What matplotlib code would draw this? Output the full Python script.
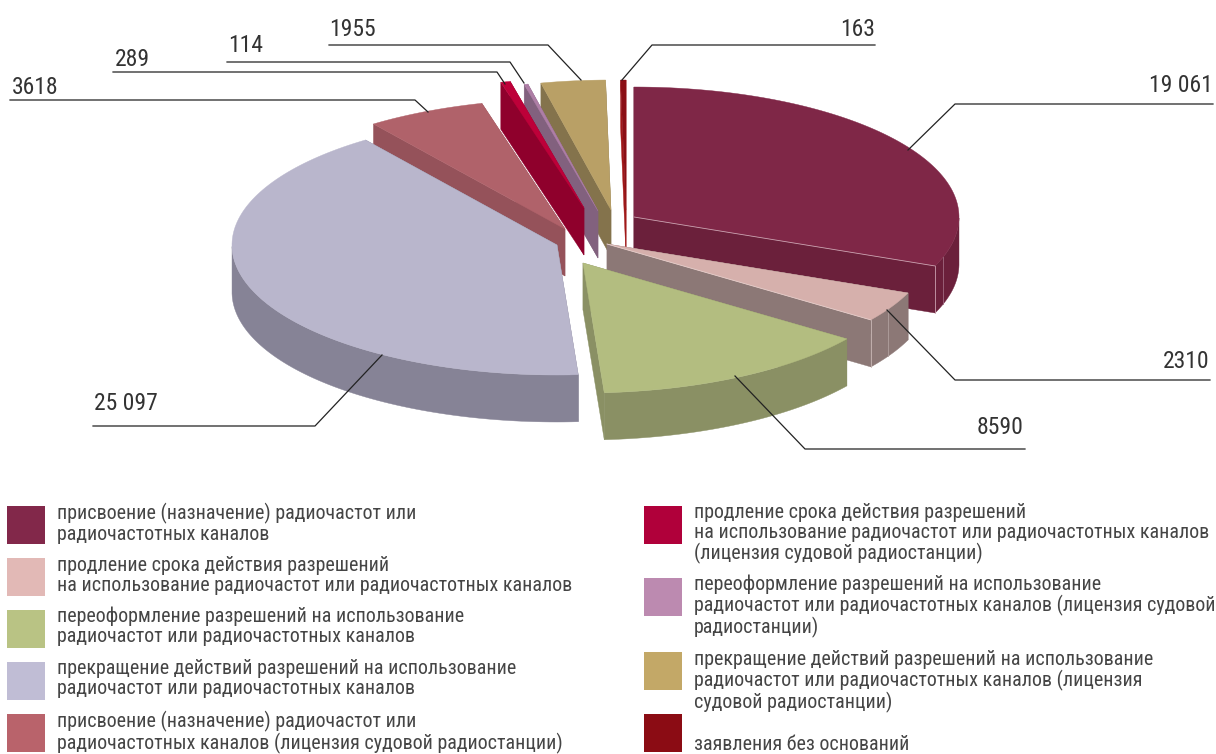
import numpy as np
import matplotlib
matplotlib.use('Agg')
import matplotlib.pyplot as plt
from matplotlib.patches import Polygon, Rectangle

plt.rcParams['font.family'] = ['Roboto Condensed', 'Liberation Sans', 'DejaVu Sans']

# Slice values, clockwise from 12 o'clock
values = [19061, 2310, 8590, 25097, 3618, 289, 114, 1955, 163]
value_labels = ['19 061', '2310', '8590', '25 097', '3618', '289', '114', '1955', '163']

legend_labels = [
    'присвоение (назначение) радиочастот или\nрадиочастотных каналов',
    'продление срока действия разрешений\nна использование радиочастот или радиочастотных каналов',
    'переоформление разрешений на использование\nрадиочастот или радиочастотных каналов',
    'прекращение действий разрешений на использование\nрадиочастот или радиочастотных каналов',
    'присвоение (назначение) радиочастот или\nрадиочастотных каналов (лицензия судовой радиостанции)',
    'продление срока действия разрешений\nна использование радиочастот или радиочастотных каналов\n(лицензия судовой радиостанции)',
    'переоформление разрешений на использование\nрадиочастот или радиочастотных каналов (лицензия судовой\nрадиостанции)',
    'прекращение действий разрешений на использование\nрадиочастот или радиочастотных каналов (лицензия\nсудовой радиостанции)',
    'заявления без оснований',
]

top_colors = ['#7f2747', '#d6b0ac', '#b3bd80', '#b9b6cc', '#b0626a', '#bd0039', '#ae7ea6', '#b9a066', '#8b0f15']
wall_colors = ['#6b203b', '#8c7876', '#8a9064', '#868396', '#95525a', '#8f002c', '#82617e', '#84734c', '#a01818']
swatch_colors = ['#82284a', '#e2b9b6', '#b9c384', '#c0bdd5', '#b9636b', '#b0003a', '#bc8ab0', '#c3a867', '#8b0c14']

# Pie geometry, in pixels
rx, ry, depth = 325, 130, 47
apex = [(634, 217), (607, 244), (583, 263), (557, 245), (565, 229), (584, 208), (598, 211), (611, 210), (626, 210)]
draw_order = [0, 8, 7, 6, 5, 4, 3, 1, 2]

# Leader lines (start at label end, finish on the slice)
leaders = [
    [(1213, 104), (955, 104), (908, 150)],
    [(1210, 380), (955, 380), (887, 310)],
    [(1025, 449), (805, 449), (735, 376)],
    [(93, 426), (315, 426), (382, 355)],
    [(10, 100), (415, 100), (428, 112)],
    [(113, 72), (497, 72), (505, 84)],
    [(227, 62), (510, 62), (524, 83)],
    [(329, 45), (548, 45), (581, 80)],
    [(875, 45), (652, 45), (622, 80)],
]
label_pos = [(1213, 86), (1210, 362), (1023, 428), (94, 403), (12, 88), (115, 59), (228, 46), (329, 30), (875, 30)]
label_ha = ['right', 'right', 'right', 'left', 'left', 'left', 'left', 'left', 'right']

legend_x = [7] * 5 + [644] * 4
legend_y = [506, 558, 610, 662, 714, 506, 578, 652, 714]
text_y = [503, 556, 607, 659, 711, 503, 575, 650, 735]

fig = plt.figure(figsize=(12.16, 7.54), dpi=100)
ax = fig.add_axes([0, 0, 1, 1])
ax.set_xlim(0, 1216)
ax.set_ylim(754, 0)
ax.axis('off')

edges = np.concatenate([[0], np.cumsum(values)]) / np.sum(values) * 2 * np.pi


def rim(cx, cy, th):
    return np.column_stack([cx + rx * np.sin(th), cy - ry * np.cos(th)])


for i in draw_order:
    cx, cy = apex[i]
    th = np.linspace(edges[i], edges[i + 1], 120)
    arc = rim(cx, cy, th)
    down = np.array([0, depth])
    # cut faces
    for p in (arc[0], arc[-1]):
        ax.add_patch(Polygon([(cx, cy), p, p + down, (cx, cy + depth)],
                             fc=wall_colors[i], ec=wall_colors[i], lw=0.3))
    # outer wall, only the front half of the rim shows
    front = (th >= np.pi / 2) & (th <= 3 * np.pi / 2)
    if front.sum() > 1:
        a = arc[front]
        ax.add_patch(Polygon(np.vstack([a, (a + down)[::-1]]), fc=wall_colors[i], ec=wall_colors[i], lw=0.3))
    # top
    ax.add_patch(Polygon(np.vstack([[(cx, cy)], arc]), fc=top_colors[i], ec=top_colors[i], lw=0.3))
    # light seams on the big front slices
    if i in (0, 1):
        p = arc[-1]
        ax.plot([cx, p[0]], [cy, p[1]], color='#c9a0ae' if i == 0 else '#e6cfcc', lw=0.6)
        ax.plot([p[0], p[0]], [p[1], p[1] + depth], color='#c9a0ae' if i == 0 else '#c9b8b6', lw=0.6)
        q = rim(cx, cy, np.array([edges[i + 1] - 0.07 if i == 0 else edges[i + 1] - 0.1]))[0]
        ax.plot([q[0], q[0]], [q[1], q[1] + depth], color='#a06a80' if i == 0 else '#b0a09e', lw=0.6)

for pts, txt, pos, ha in zip(leaders, value_labels, label_pos, label_ha):
    xs, ys = zip(*pts)
    ax.plot(xs, ys, color='#222222', lw=0.9, zorder=5)
    ax.text(pos[0], pos[1], txt, ha=ha, va='center', fontsize=17, color='#333333', zorder=6)

for k in range(9):
    ax.add_patch(Rectangle((legend_x[k], legend_y[k]), 37.5, 38, fc=swatch_colors[k], ec='none'))
    ax.text(legend_x[k] + 50, text_y[k], legend_labels[k], ha='left', va='top', fontsize=14.4,
            linespacing=1.05, color='#454545')

fig.savefig('out.png', dpi=100)
